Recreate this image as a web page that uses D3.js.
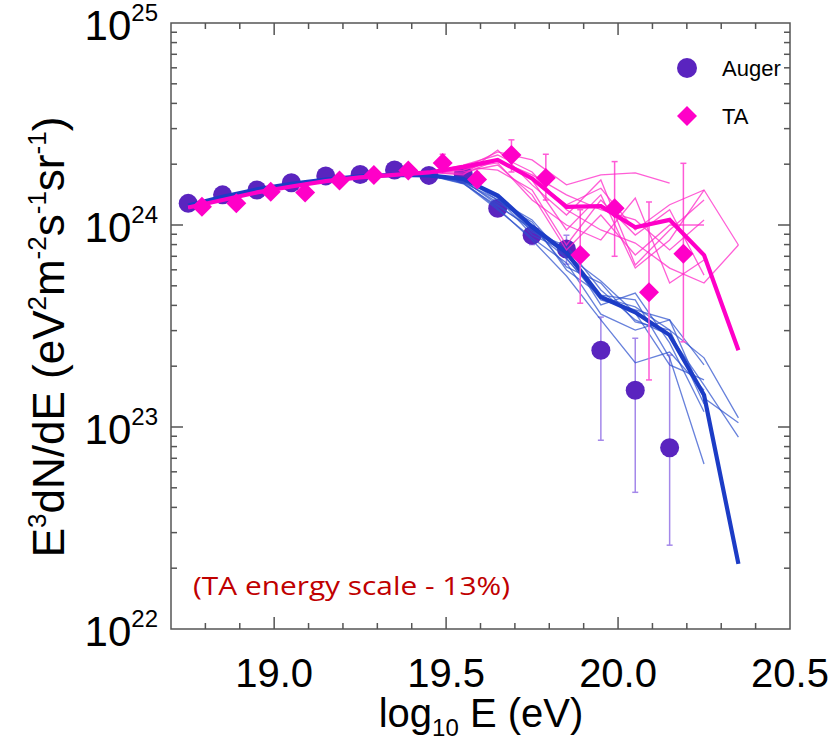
<!DOCTYPE html>
<html>
<head>
<meta charset="utf-8">
<script src="https://cdn.jsdelivr.net/npm/d3@7"></script>
<style>
  html, body { margin: 0; padding: 0; background: #fff; }
  svg { display: block; font-family: "Liberation Sans", Arial, Helvetica, sans-serif; }
</style>
</head>
<body>
<svg id="chart" width="837" height="741"></svg>
<script>
// ---- Data: log10(E/eV) and E^3 dN/dE in eV^2 m^-2 s^-1 sr^-1 ----
const augerLogE = [18.75, 18.85, 18.95, 19.05, 19.15, 19.25, 19.35, 19.45, 19.55, 19.65, 19.75, 19.85, 19.95, 20.05, 20.15];
const augerFlux = [1.28e24, 1.41e24, 1.49e24, 1.62e24, 1.75e24, 1.78e24, 1.87e24, 1.76e24, 1.78e24, 1.21e24, 8.9e23, 7.6e23, 2.4e23, 1.52e23, 7.9e22];
const augerLo   = [1.25e24, 1.38e24, 1.46e24, 1.58e24, 1.70e24, 1.72e24, 1.80e24, 1.68e24, 1.68e24, 1.12e24, 8.0e23, 6.4e23, 8.6e22, 4.75e22, 2.6e22];
const augerHi   = [1.31e24, 1.44e24, 1.52e24, 1.66e24, 1.80e24, 1.84e24, 1.94e24, 1.84e24, 1.88e24, 1.31e24, 9.9e23, 8.9e23, 3.5e23, 2.75e23, 2.27e23];

// TA points, energy scale shifted by -13%
const taLogE = [18.79, 18.89, 18.99, 19.09, 19.19, 19.29, 19.39, 19.49, 19.59, 19.69, 19.79, 19.89, 19.99, 20.09, 20.19];
const taFlux = [1.23e24, 1.28e24, 1.46e24, 1.45e24, 1.66e24, 1.77e24, 1.86e24, 2.03e24, 1.68e24, 2.22e24, 1.71e24, 7.1e23, 1.21e24, 4.65e23, 7.2e23];
const taLo   = [1.19e24, 1.24e24, 1.41e24, 1.40e24, 1.60e24, 1.70e24, 1.78e24, 1.83e24, 1.55e24, 1.83e24, 1.33e24, 4.1e23, 7.0e23, 1.71e23, 2.64e23];
const taHi   = [1.27e24, 1.32e24, 1.51e24, 1.50e24, 1.72e24, 1.84e24, 1.94e24, 2.24e24, 1.82e24, 2.64e24, 2.24e24, 1.19e24, 2.06e24, 1.30e24, 2.02e24];

// Model spectra (thick lines)
const modelLogE  = [18.75, 18.85, 18.95, 19.05, 19.15, 19.25, 19.35, 19.45, 19.55, 19.65, 19.75, 19.85, 19.95, 20.05, 20.15, 20.25, 20.35];
const augerModel = [1.25e24, 1.38e24, 1.50e24, 1.60e24, 1.68e24, 1.74e24, 1.77e24, 1.76e24, 1.69e24, 1.40e24, 9.8e23, 7.3e23, 4.4e23, 3.7e23, 2.85e23, 1.44e23, 2.1e22];
const taModel    = [1.22e24, 1.33e24, 1.45e24, 1.55e24, 1.65e24, 1.72e24, 1.77e24, 1.82e24, 1.94e24, 2.10e24, 1.70e24, 1.23e24, 1.24e24, 9.75e23, 1.06e24, 7.1e23, 2.4e23];

// Simulated realisations (thin lines): common low-energy part + individual tails from 19.55 up
const headLogE = [18.75, 18.85, 18.95, 19.05, 19.15, 19.25, 19.35, 19.45];
const tailLogE = [19.55, 19.65, 19.75, 19.85, 19.95, 20.05, 20.15, 20.25, 20.35];
const augerSimTails = [
  [1.67e24, 1.26e24, 9.45e23, 6.87e23, 4.26e23, 3.80e23, 3.39e23, 1.39e23, 1.05e23],
  [1.63e24, 1.33e24, 1.00e24, 6.20e23, 5.16e23, 3.31e23, 3.02e23, 2.20e23, 1.11e23],
  [1.71e24, 1.36e24, 8.92e23, 7.43e23, 4.02e23, 4.60e23, 2.61e23, 1.19e23, null],
  [1.61e24, 1.19e24, 8.63e23, 6.49e23, 3.62e23, 3.02e23, 3.39e23, 2.03e23, null],
  [1.65e24, 1.29e24, 1.035e24, 5.99e23, 4.50e23, 4.26e23, 2.20e23, 6.56e22, null],
  [1.69e24, 1.39e24, 9.23e23, 7.87e23, 4.77e23, 3.39e23, 2.85e23, 1.61e23, 8.91e22],
  [1.63e24, 1.21e24, 8.43e23, 5.59e23, 3.39e23, 2.08e23, 2.35e23, 1.52e23, null],
  [1.71e24, 1.33e24, 1.06e24, 6.80e23, 4.40e23, 3.93e23, 3.02e23, 1.30e23, null],
  [1.60e24, 1.24e24, 9.66e23, 7.10e23, 5.28e23, 3.67e23, 2.03e23, 1.71e23, null]
];
const taSimTails = [
  [1.91e24, 2.30e24, 2.10e24, 1.58e24, 1.77e24, 1.81e24, 1.61e24, null, null],
  [1.87e24, 2.10e24, 1.71e24, 1.26e24, 1.52e24, 9.45e23, 1.26e24, 1.49e24, 7.96e23],
  [1.98e24, 2.22e24, 1.83e24, 1.19e24, 9.45e23, 8.14e23, 6.12e23, 5.16e23, 7.96e23],
  [1.83e24, 1.98e24, 1.41e24, 7.52e23, 1.12e24, 7.10e23, 1.00e24, 1.00e24, null],
  [1.77e24, 2.35e24, 1.58e24, 1.12e24, 1.67e24, 6.34e23, 9.45e23, 1.33e24, null],
  [1.91e24, 2.03e24, 1.33e24, 1.00e24, 8.43e23, 1.36e24, 5.16e23, 6.71e23, null],
  [1.87e24, 2.10e24, 1.77e24, 1.41e24, 1.19e24, 1.06e24, 7.52e23, 1.06e24, null],
  [1.94e24, 1.87e24, 1.49e24, 7.96e23, 1.33e24, 8.92e23, 1.19e24, 5.65e23, null],
  [1.79e24, 2.10e24, 1.67e24, 9.45e23, 1.41e24, 6.12e23, 8.43e23, 1.49e24, null]
];

const xTicksMajor = [19.0, 19.5, 20.0, 20.5];
const yDecades = [22, 23, 24, 25];
const legendNames = ["Auger", "TA"];

// ---- Layout ----
const svg = d3.select("#chart");
const plot = { left: 171, right: 790, top: 23, bottom: 629 };

const x = d3.scaleLinear().domain([18.7, 20.5]).range([plot.left, plot.right]);
const y = d3.scaleLog().domain([1e22, 1e25]).range([plot.bottom, plot.top]);

const colors = {
  auger: "#5a24bf",
  augerBar: "#a488ea",
  augerThin: "rgba(45, 80, 205, 0.72)",
  augerThick: "#1c3cc6",
  ta: "#ff00c8",
  taBar: "#ff5ad6",
  taThin: "rgba(255, 40, 200, 0.75)",
  taThick: "#ff00c8"
};

const line = d3.line()
  .defined(d => d[1] != null)
  .x(d => x(d[0]))
  .y(d => y(d[1]));

// ---- Auger error bars and points ----
const gAuger = svg.append("g");
augerLogE.forEach((e, i) => {
  gAuger.append("line")
    .attr("x1", x(e)).attr("x2", x(e))
    .attr("y1", y(augerLo[i])).attr("y2", y(augerHi[i]))
    .attr("stroke", colors.augerBar).attr("stroke-width", 1.5);
  [augerLo[i], augerHi[i]].forEach(v => {
    gAuger.append("line")
      .attr("x1", x(e) - 3).attr("x2", x(e) + 3)
      .attr("y1", y(v)).attr("y2", y(v))
      .attr("stroke", colors.augerBar).attr("stroke-width", 1.5);
  });
});
gAuger.selectAll("circle.pt")
  .data(augerLogE.map((e, i) => [e, augerFlux[i]]))
  .join("circle")
  .attr("class", "pt")
  .attr("cx", d => x(d[0])).attr("cy", d => y(d[1]))
  .attr("r", 9.5)
  .attr("fill", colors.auger);

// ---- Auger model: thin realisations and thick mean ----
const gBlue = svg.append("g").attr("fill", "none");
augerSimTails.forEach(tail => {
  const pts = headLogE.map((e, i) => [e, augerModel[i]])
    .concat(tailLogE.map((e, i) => [e, tail[i]]));
  gBlue.append("path").attr("d", line(pts))
    .attr("stroke", colors.augerThin).attr("stroke-width", 1.3)
    .attr("stroke-linejoin", "miter");
});
gBlue.append("path")
  .attr("d", line(modelLogE.map((e, i) => [e, augerModel[i]])))
  .attr("stroke", colors.augerThick).attr("stroke-width", 4.2);

// ---- TA error bars ----
const gTA = svg.append("g");
taLogE.forEach((e, i) => {
  gTA.append("line")
    .attr("x1", x(e)).attr("x2", x(e))
    .attr("y1", y(taLo[i])).attr("y2", y(taHi[i]))
    .attr("stroke", colors.taBar).attr("stroke-width", 1.5);
  [taLo[i], taHi[i]].forEach(v => {
    gTA.append("line")
      .attr("x1", x(e) - 3).attr("x2", x(e) + 3)
      .attr("y1", y(v)).attr("y2", y(v))
      .attr("stroke", colors.taBar).attr("stroke-width", 1.5);
  });
});

// ---- TA model: thin realisations and thick mean ----
const gPink = svg.append("g").attr("fill", "none");
taSimTails.forEach(tail => {
  const pts = headLogE.map((e, i) => [e, taModel[i]])
    .concat(tailLogE.map((e, i) => [e, tail[i]]));
  gPink.append("path").attr("d", line(pts))
    .attr("stroke", colors.taThin).attr("stroke-width", 1.3);
});
gPink.append("path")
  .attr("d", line(modelLogE.map((e, i) => [e, taModel[i]])))
  .attr("stroke", colors.taThick).attr("stroke-width", 4.2);

// ---- TA points (diamonds) ----
const diamond = d3.symbol().type(d3.symbolSquare).size(200);
svg.append("g").selectAll("path")
  .data(taLogE.map((e, i) => [e, taFlux[i]]))
  .join("path")
  .attr("d", diamond)
  .attr("transform", d => `translate(${x(d[0])},${y(d[1])}) rotate(45)`)
  .attr("fill", colors.ta);

// ---- Axes frame and ticks ----
const axisColor = "#555";
const gAxes = svg.append("g").attr("stroke", axisColor).attr("stroke-width", 1.5);
gAxes.append("rect")
  .attr("x", plot.left).attr("y", plot.top)
  .attr("width", plot.right - plot.left).attr("height", plot.bottom - plot.top)
  .attr("fill", "none");

// x ticks (bottom and top)
const xMinor = d3.range(188, 205).map(v => v / 10).filter(v => v > 18.7 && v < 20.5);
xMinor.forEach(v => {
  const major = xTicksMajor.some(m => Math.abs(m - v) < 1e-6);
  const len = major ? 12 : 6;
  gAxes.append("line").attr("x1", x(v)).attr("x2", x(v))
    .attr("y1", plot.bottom).attr("y2", plot.bottom - len);
  gAxes.append("line").attr("x1", x(v)).attr("x2", x(v))
    .attr("y1", plot.top).attr("y2", plot.top + len);
});

// y ticks (left and right), log scale
y.ticks().forEach(v => {
  const m = Math.round(v / Math.pow(10, Math.floor(Math.log10(v) + 1e-9)));
  const major = m === 1;
  if (v <= 1e22 || v >= 1e25) return;
  const len = major ? 12 : 6;
  gAxes.append("line").attr("x1", plot.left).attr("x2", plot.left + len)
    .attr("y1", y(v)).attr("y2", y(v));
  gAxes.append("line").attr("x1", plot.right).attr("x2", plot.right - len)
    .attr("y1", y(v)).attr("y2", y(v));
});

// ---- Tick labels ----
const gLabels = svg.append("g").attr("fill", "#000");
xTicksMajor.forEach(v => {
  gLabels.append("text")
    .attr("x", x(v)).attr("y", 687)
    .attr("text-anchor", "middle")
    .attr("font-size", 40)
    .text(d3.format(".1f")(v));
});
yDecades.forEach(p => {
  const t = gLabels.append("text")
    .attr("x", 158).attr("y", y(Math.pow(10, p)) + 17)
    .attr("text-anchor", "end")
    .attr("font-size", 42);
  t.append("tspan").text("10");
  t.append("tspan").attr("dy", -19).attr("font-size", 24).text(String(p));
});

// ---- Axis titles ----
const xt = gLabels.append("text")
  .attr("x", 481).attr("y", 727)
  .attr("text-anchor", "middle")
  .attr("font-size", 40);
xt.append("tspan").text("log");
xt.append("tspan").attr("dy", 9).attr("font-size", 24).text("10");
xt.append("tspan").attr("dy", -9).text(" E (eV)");

const yt = gLabels.append("text")
  .attr("transform", "translate(64,337) rotate(-90)")
  .attr("text-anchor", "middle")
  .attr("font-size", 44);
yt.append("tspan").text("E");
yt.append("tspan").attr("dy", -18).attr("font-size", 26).text("3");
yt.append("tspan").attr("dy", 18).text("dN/dE (eV");
yt.append("tspan").attr("dy", -18).attr("font-size", 26).text("2");
yt.append("tspan").attr("dy", 18).text("m");
yt.append("tspan").attr("dy", -18).attr("font-size", 26).text("-2");
yt.append("tspan").attr("dy", 18).text("s");
yt.append("tspan").attr("dy", -18).attr("font-size", 26).text("-1");
yt.append("tspan").attr("dy", 18).text("sr");
yt.append("tspan").attr("dy", -18).attr("font-size", 26).text("-1");
yt.append("tspan").attr("dy", 18).text(")");

// ---- Legend ----
const gLeg = svg.append("g");
gLeg.append("circle").attr("cx", 687).attr("cy", 68).attr("r", 10).attr("fill", colors.auger);
gLeg.append("path").attr("d", diamond)
  .attr("transform", "translate(687,116) rotate(45)").attr("fill", colors.ta);
legendNames.forEach((name, i) => {
  gLeg.append("text").attr("x", 722).attr("y", 76 + i * 48)
    .attr("font-size", 22).attr("fill", "#000").text(name);
});

// ---- Annotation ----
svg.append("text")
  .attr("x", 193).attr("y", 595)
  .attr("font-family", "'Open Sans', 'Noto Sans', sans-serif")
  .attr("font-size", 25)
  .attr("fill", "#c00000")
  .attr("textLength", 317).attr("lengthAdjust", "spacingAndGlyphs")
  .text("(TA energy scale - 13%)");
</script>
</body>
</html>
